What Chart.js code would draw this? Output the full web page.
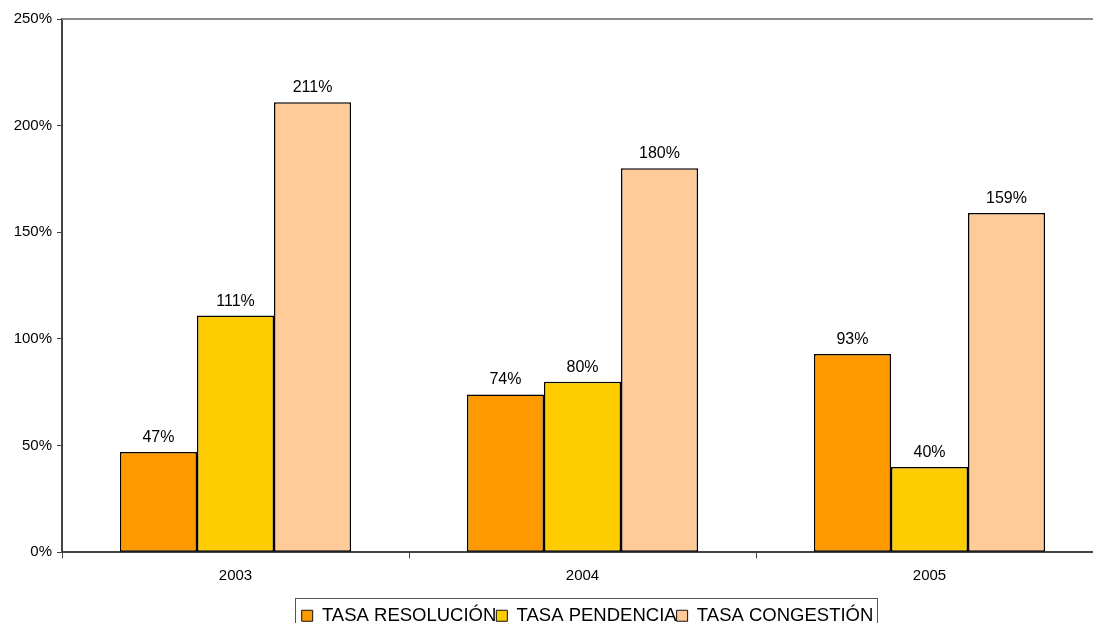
<!DOCTYPE html>
<html>
<head>
<meta charset="utf-8">
<script src="https://cdn.jsdelivr.net/npm/chart.js@4/dist/chart.umd.min.js"></script>
<style>
  html, body { margin: 0; padding: 0; background: #fff; overflow: hidden; }
  #wrap { width: 1175px; height: 635px; position: relative; }
</style>
</head>
<body>
<div id="wrap"><canvas id="c"></canvas></div>
<script>
const categories = ['2003', '2004', '2005'];
const seriesNames = ['TASA RESOLUCIÓN', 'TASA PENDENCIA', 'TASA CONGESTIÓN'];
const resolucion = [47, 74, 93];
const pendencia = [111, 80, 40];
const congestion = [211, 180, 159];
const yTicks = [0, 50, 100, 150, 200, 250];
const colors = ['#FF9900', '#FFCC00', '#FFCC99'];

const FONT = "'Liberation Sans', Arial, sans-serif";
const LEGEND_SHIFT = 36;

const valueLabels = {
  id: 'valueLabels',
  afterDatasetsDraw(chart) {
    const ctx = chart.ctx;
    ctx.save();
    ctx.font = '16px ' + FONT;
    ctx.fillStyle = '#000';
    ctx.textAlign = 'center';
    ctx.textBaseline = 'alphabetic';
    chart.data.datasets.forEach((ds, i) => {
      const meta = chart.getDatasetMeta(i);
      meta.data.forEach((el, j) => {
        ctx.fillText(ds.data[j] + '%', el.x, el.y - 10);
      });
    });
    ctx.restore();
  }
};

const legendShift = {
  id: 'legendShift',
  afterLayout(chart) {
    const lg = chart.legend;
    if (lg) {
      lg.left += LEGEND_SHIFT;
      lg.right += LEGEND_SHIFT;
    }
  }
};

const frame = {
  id: 'frame',
  afterDraw(chart) {
    const ctx = chart.ctx;
    const a = chart.chartArea;
    ctx.save();
    ctx.strokeStyle = '#8a8a8a';
    ctx.lineWidth = 2;
    ctx.beginPath();
    ctx.moveTo(a.left, a.top);
    ctx.lineTo(a.right, a.top);
    ctx.stroke();
    const lg = chart.legend;
    if (lg && lg.lineWidths && lg.lineWidths.length) {
      const lw = lg.lineWidths[0];
      const startX = (lg.left + lg.right - lw) / 2;
      const l = startX - 7;
      const r = startX + lw + 3;
      const t = lg.top - 1;
      ctx.strokeStyle = '#555';
      ctx.lineWidth = 1;
      ctx.strokeRect(Math.round(l) + 0.5, Math.round(t) + 0.5, Math.round(r - l), 80);
    }
    ctx.restore();
  }
};

new Chart(document.getElementById('c'), {
  type: 'bar',
  data: {
    labels: categories,
    datasets: [
      { label: seriesNames[0], data: resolucion, backgroundColor: colors[0] },
      { label: seriesNames[1], data: pendencia, backgroundColor: colors[1] },
      { label: seriesNames[2], data: congestion, backgroundColor: colors[2] }
    ].map(d => Object.assign(d, {
      borderColor: '#000',
      borderWidth: 1.5,
      borderSkipped: false,
      categoryPercentage: 0.666,
      barPercentage: 1.0
    }))
  },
  options: {
    responsive: true,
    maintainAspectRatio: false,
    animation: false,
    layout: { padding: { top: 19, right: 72, left: 0, bottom: 0 } },
    scales: {
      x: {
        offset: true,
        grid: { offset: true, drawOnChartArea: false, drawTicks: true, tickLength: 6, color: '#444', lineWidth: 1 },
        border: { display: true, color: '#444', width: 2 },
        ticks: { color: '#000', font: { family: FONT, size: 15 }, padding: 9, maxRotation: 0 },
        afterFit(scale) { scale.height = 47; }
      },
      y: {
        min: 0,
        max: 250,
        afterBuildTicks(scale) { scale.ticks = yTicks.map(v => ({ value: v })); },
        grid: { drawOnChartArea: false, drawTicks: true, tickLength: 5, color: '#444' },
        border: { display: true, color: '#444', width: 2 },
        ticks: { color: '#000', font: { family: FONT, size: 15 }, padding: 5, callback: v => v + '%' },
        afterFit(scale) { scale.width = 62; }
      }
    },
    plugins: {
      legend: {
        position: 'bottom',
        title: { display: true, text: '', color: '#000', padding: 0, font: { size: 6, family: FONT } },
        labels: {
          color: '#000',
          font: { family: FONT, size: 18.5 },
          boxWidth: 11,
          boxHeight: 11,
          padding: 0,
          generateLabels(chart) {
            return chart.data.datasets.map((d, i) => ({
              text: d.label,
              fillStyle: d.backgroundColor,
              strokeStyle: '#111',
              fontColor: '#000',
              lineWidth: 1,
              datasetIndex: i,
              hidden: false
            }));
          }
        }
      },
      tooltip: { enabled: false }
    }
  },
  plugins: [legendShift, valueLabels, frame]
});
</script>
</body>
</html>
